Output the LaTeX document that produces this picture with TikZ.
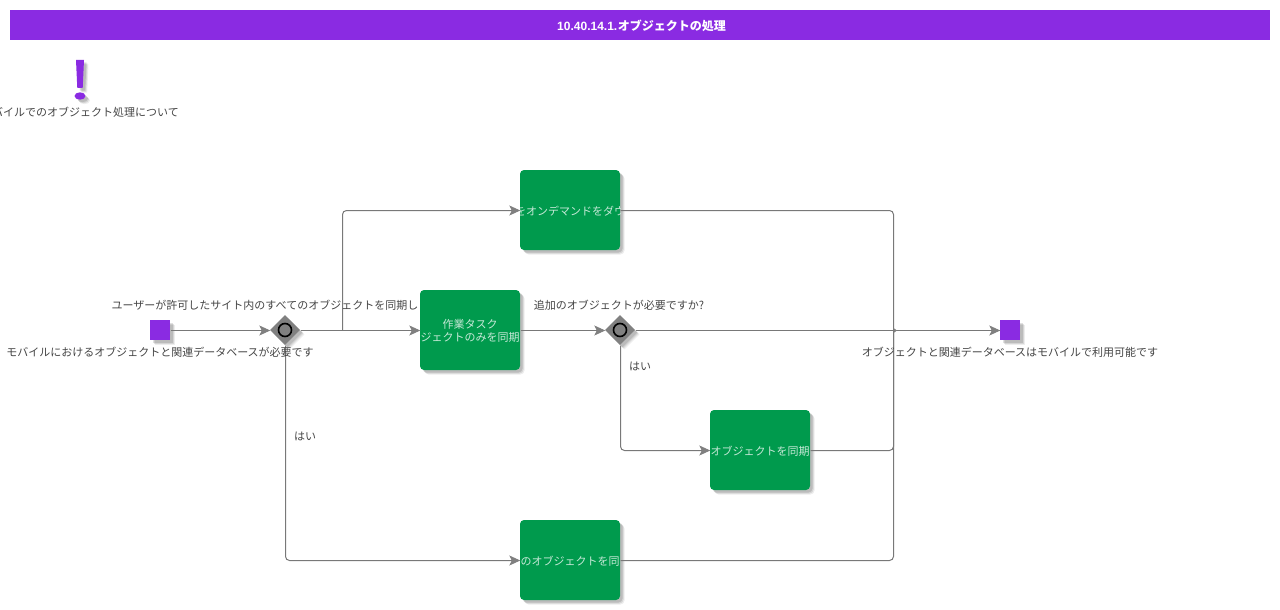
\documentclass[tikz,border=0pt]{standalone}
\usepackage{fontspec}
\setmainfont{Noto Sans CJK JP}
\newfontfamily\latfont{Liberation Sans}
\usetikzlibrary{shadows,arrows.meta,shapes.geometric,calc}
\definecolor{violetbar}{HTML}{8A2BE2}
\definecolor{taskgreen}{HTML}{009A4D}
\definecolor{edgegray}{HTML}{787878}
\definecolor{tipgray}{HTML}{808080}
\definecolor{labelgray}{HTML}{444444}
\tikzset{
  softshadow/.style={
    general shadow={shadow xshift=4.5pt,shadow yshift=-4.5pt,fill=black,opacity=.07},
    general shadow={shadow xshift=3.5pt,shadow yshift=-3.5pt,fill=black,opacity=.10},
    general shadow={shadow xshift=2.5pt,shadow yshift=-2.5pt,fill=black,opacity=.12}},
  terminal/.style={rectangle,minimum size=20pt,inner sep=0,fill=violetbar,softshadow},
  gate/.style={diamond,minimum width=30pt,minimum height=30pt,inner sep=0,fill=tipgray,softshadow},
  ring/.style={circle,minimum size=13pt,inner sep=0,draw=black,line width=1.6pt,fill=tipgray},
  task/.style={rectangle,rounded corners=4pt,minimum width=100pt,minimum height=80pt,inner sep=0,fill=taskgreen,softshadow,
    path picture={\node[tasklabel] at (path picture bounding box.center) {#1};}},
  tasklabel/.style={text=white!78!taskgreen,align=center,inner sep=0,yshift=-1pt,font=\fontsize{11}{13}\selectfont},
  note/.style={text=labelgray,inner sep=0,yshift=-1pt,font=\fontsize{11}{13}\selectfont},
  flow/.style={draw=edgegray,line width=1pt,rounded corners=4pt,-{Stealth[length=11pt,width=10pt,inset=2.5pt,color=tipgray]}},
  merge/.style={draw=edgegray,line width=1pt,rounded corners=4pt},
  px/.style={shift={(.5pt,-.5pt)}},
}
\begin{document}
\begin{tikzpicture}[x=1pt,y=-1pt]
\useasboundingbox (0,0) rectangle (1280,610);
\begin{scope}
\clip (0,0) rectangle (1280,610);
% title
\node[rectangle,fill=violetbar,minimum width=1260pt,minimum height=30pt,inner sep=0] (bar) at (640,25) {};
\node[text=white,inner sep=0,xshift=1.5pt,yshift=-.5pt,font=\fontsize{12}{14}\selectfont\bfseries] (title) at (bar.center) {{\latfont 10.40.14.1.}\hspace{.5pt}オブジェクトの処理};
% exclamation mark
\fill[black,opacity=.07] (80.5,64.5) -- (88.5,64.5) -- (87.2,92.5) -- (81.8,92.5) -- cycle (84.5,100.5) ellipse (5.5 and 3.7);
\fill[black,opacity=.10] (79.5,63.5) -- (87.5,63.5) -- (86.2,91.5) -- (80.8,91.5) -- cycle (83.5,99.5) ellipse (5.5 and 3.7);
\fill[black,opacity=.12] (78.5,62.5) -- (86.5,62.5) -- (85.2,90.5) -- (79.8,90.5) -- cycle (82.5,98.5) ellipse (5.5 and 3.7);
\fill[violetbar] (76,60) -- (84,60) -- (82.7,88) -- (77.3,88) -- cycle (80,96) ellipse (5.5 and 3.7);
\node[note] (mark) at (80,111) {モバイルでのオブジェクト処理について};
% nodes
\node[terminal] (start) at (160,330) {};
\node[terminal] (end) at (1010,330) {};
\node[gate] (g1) at (285,330) {};
\node[ring] (r1) at (g1.center) {};
\node[gate] (g2) at (620,330) {};
\node[ring] (r2) at (g2.center) {};
\node[task={をオンデマンドをダウ}] (b1) at (570,210) {};
\node[task={作業タスク\\ジェクトのみを同期}] (b2) at (470,330) {};
\node[task={オブジェクトを同期}] (b4) at (760,450) {};
\node[task={のオブジェクトを同}] (b3) at (570,560) {};
\coordinate (j1) at (342,330);
\coordinate (j2) at (893,330);
% connectors
\draw[flow] ([px]start.east) -- ([px]g1.west);
\draw[flow] ([px]g1.east) -- ([px]b2.west);
\draw[flow] ([px]j1) |- ([px]b1.west);
\draw[flow] ([px]g1.south) |- ([px]b3.west);
\draw[flow] ([px]b2.east) -- ([px]g2.west);
\draw[flow] ([px]g2.east) -- ([px]end.west);
\draw[flow] ([px]g2.south) |- ([px]b4.west);
\draw[merge] ([px]b1.east) -| ([px]j2);
\draw[merge] ([px]b4.east) -| ([px]j2);
\draw[merge] ([px]b3.east) -| ([px]j2);
\fill[tipgray] ([px]j2) -- ++(0,-2.5) -- ++(3.5,2.5) -- ++(-3.5,2.5) -- cycle;
% labels
\node[note,anchor=west] (l1) at (111.5,304) {ユーザーが許可したサイト内のすべてのオブジェクトを同期し};
\node[note] (l2) at (160,351) {モバイルにおけるオブジェクトと関連データベースが必要です};
\node[note] (l3) at (619,304) {追加のオブジェクトが必要ですか?};
\node[note] (l4) at (1010,351) {オブジェクトと関連データベースはモバイルで利用可能です};
\node[note] (l5) at (305,435) {はい};
\node[note] (l6) at (640,365) {はい};
\end{scope}
\end{tikzpicture}
\end{document}
